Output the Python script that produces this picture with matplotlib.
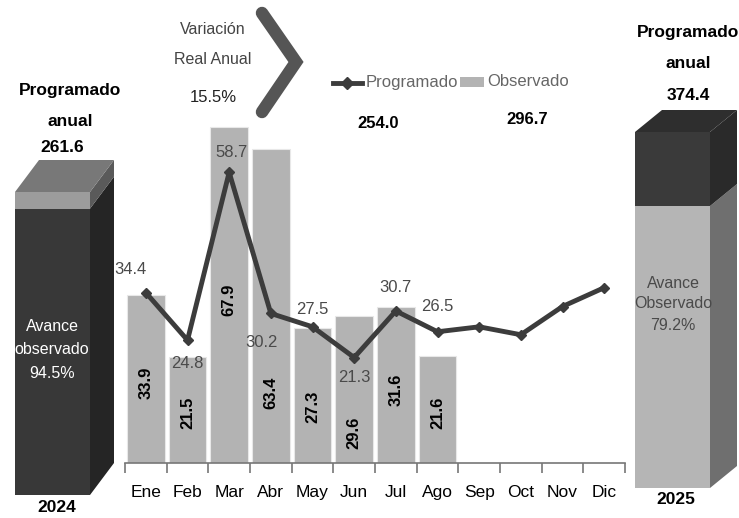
import numpy as np
import matplotlib.pyplot as plt
from matplotlib.patches import Polygon, Rectangle

plt.rcParams['font.family'] = ['Liberation Sans', 'DejaVu Sans']

# datos mensuales (millones)
meses = ["Ene", "Feb", "Mar", "Abr", "May", "Jun", "Jul", "Ago", "Sep", "Oct", "Nov", "Dic"]
observado = [33.9, 21.5, 67.9, 63.4, 27.3, 29.6, 31.6, 21.6]
programado = [34.4, 24.8, 58.7, 30.2, 27.5, 21.3, 30.7, 26.5, 27.5, 25.9, 31.6, 35.4]
n_prog_etiq = 8  # solo ene-ago llevan etiqueta

# posicion (en unidades) de las etiquetas dentro de las barras
pos_etiq_obs = [16.2, 10.1, 32.9, 14.1, 11.3, 6.1, 14.7, 10.1]
# desplazamiento (px) de etiquetas de la linea
desp_prog = [(-15, 23), (0, -23), (2, 20), (-9, -29), (0, 17), (0, -20), (0, 23), (0, 25)]

acum_prog = 254.0
acum_obs = 296.7
anual_2024 = 261.6
avance_2024 = 94.5
anual_2025 = 374.4
avance_2025 = 79.2
variacion = 15.5

W, H = 739, 518
fig = plt.figure(figsize=(W / 100, H / 100), dpi=100)

# capa de dibujo en pixeles
ov = fig.add_axes([0, 0, 1, 1])
ov.set_xlim(0, W)
ov.set_ylim(H, 0)
ov.axis("off")


def barra3d(x0, x1, ytop, ybot, dx, dy, frac, c_front_bajo, c_side_bajo, c_front_alto, c_side_alto, c_top):
    ycut = ybot - (ybot - ytop) * frac / 100.0
    # parte baja
    ov.add_patch(Polygon([(x0, ycut), (x1, ycut), (x1, ybot), (x0, ybot)], closed=True, fc=c_front_bajo, ec="none"))
    ov.add_patch(Polygon([(x1, ycut), (x1 + dx, ycut - dy), (x1 + dx, ybot - dy), (x1, ybot)], closed=True, fc=c_side_bajo, ec="none"))
    # parte alta
    ov.add_patch(Polygon([(x0, ytop), (x1, ytop), (x1, ycut), (x0, ycut)], closed=True, fc=c_front_alto, ec="none"))
    ov.add_patch(Polygon([(x1, ytop), (x1 + dx, ytop - dy), (x1 + dx, ycut - dy), (x1, ycut)], closed=True, fc=c_side_alto, ec="none"))
    ov.add_patch(Polygon([(x0, ytop), (x0 + dx, ytop - dy), (x1 + dx, ytop - dy), (x1, ytop)], closed=True, fc=c_top, ec="none"))


barra3d(15, 90, 192, 495, 24, 32, avance_2024, "#383838", "#252525", "#9c9c9c", "#5a5a5a", "#787878")
barra3d(635, 710, 132, 488, 27, 22, avance_2025, "#b5b5b5", "#6f6f6f", "#3a3a3a", "#2a2a2a", "#2e2e2e")

ov.text(52, 350, "Avance\nobservado\n%.1f%%" % avance_2024, color="white", ha="center", va="center",
        fontsize=11.5, linespacing=1.7)
ov.text(673, 304, "Avance\nObservado\n%.1f%%" % avance_2025, color="#4a4a4a", ha="center", va="center",
        fontsize=11.5, linespacing=1.5)

for x, ys, val in [(70, (90, 122, 148), anual_2024), (688, (32, 63, 95), anual_2025)]:
    ov.text(x, ys[0], "Programado", ha="center", va="center", fontsize=12.5, fontweight="bold")
    ov.text(x, ys[1], "anual", ha="center", va="center", fontsize=12.5, fontweight="bold")
    ov.text(x - 8 if val < 300 else x, ys[2], "%.1f" % val, ha="center", va="center", fontsize=12.5, fontweight="bold")
ov.text(57, 508, "2024", ha="center", va="center", fontsize=12.5, fontweight="bold")
ov.text(676, 500, "2025", ha="center", va="center", fontsize=12.5, fontweight="bold")

# variacion real anual
ov.text(213, 30, "Variación", ha="center", va="center", fontsize=11.5, color="#444444")
ov.text(213, 60, "Real Anual", ha="center", va="center", fontsize=11.5, color="#444444")
ov.text(213, 97, "%.1f%%" % variacion, ha="center", va="center", fontsize=12, color="#222222")
ov.plot([262, 296, 262], [13, 62, 112], color="#555555", lw=9, solid_capstyle="round", solid_joinstyle="miter")

# leyenda
ov.plot([333, 362], [83, 83], color="#3c3c3c", lw=3.5)
ov.plot([347], [83], marker="D", ms=6, color="#3c3c3c")
ov.text(366, 82, "Programado", ha="left", va="center", fontsize=12, color="#666666")
ov.add_patch(Rectangle((460, 77), 24, 10, fc="#b3b3b3", ec="none"))
ov.text(487, 82, "Observado", ha="left", va="center", fontsize=12, color="#666666")
ov.text(378, 124, "%.1f" % acum_prog, ha="center", va="center", fontsize=12, fontweight="bold")
ov.text(527, 119, "%.1f" % acum_obs, ha="center", va="center", fontsize=12, fontweight="bold")

# grafica principal
ax = fig.add_axes([125 / W, (H - 463) / H, 500 / W, 363 / H])
ax.patch.set_alpha(0)
ax.set_xlim(-0.5, 11.5)
ax.set_ylim(0, 73.3)
x = np.arange(len(meses))
ax.bar(x[:len(observado)], observado, width=0.91, color="#b3b3b3", edgecolor="#e8e8e8", linewidth=0.8, zorder=2)
ax.plot(x, programado, color="#3c3c3c", lw=3.5, marker="D", ms=5, zorder=3)

for i, v in enumerate(observado):
    ax.text(i, pos_etiq_obs[i], "%.1f" % v, rotation=90, ha="center", va="center",
            fontsize=12, fontweight="bold", zorder=4)
for i in range(n_prog_etiq):
    ax.annotate("%.1f" % programado[i], (i, programado[i]), xytext=desp_prog[i],
                textcoords="offset pixels", ha="center", va="center", fontsize=12,
                color="#4a4a4a", zorder=4)

ax.set_xticks(np.arange(-0.5, 12, 1))
ax.set_xticklabels([])
ax.set_xticks(x, minor=True)
ax.set_xticklabels(meses, minor=True, fontsize=12.5)
ax.tick_params(axis="x", which="major", length=7, color="#777777", width=1.2)
ax.tick_params(axis="x", which="minor", length=0, pad=16)
ax.set_yticks([])
for s in ["left", "right", "top"]:
    ax.spines[s].set_visible(False)
ax.spines["bottom"].set_color("#777777")
ax.spines["bottom"].set_linewidth(1.2)

fig.savefig("out.png", dpi=100)
